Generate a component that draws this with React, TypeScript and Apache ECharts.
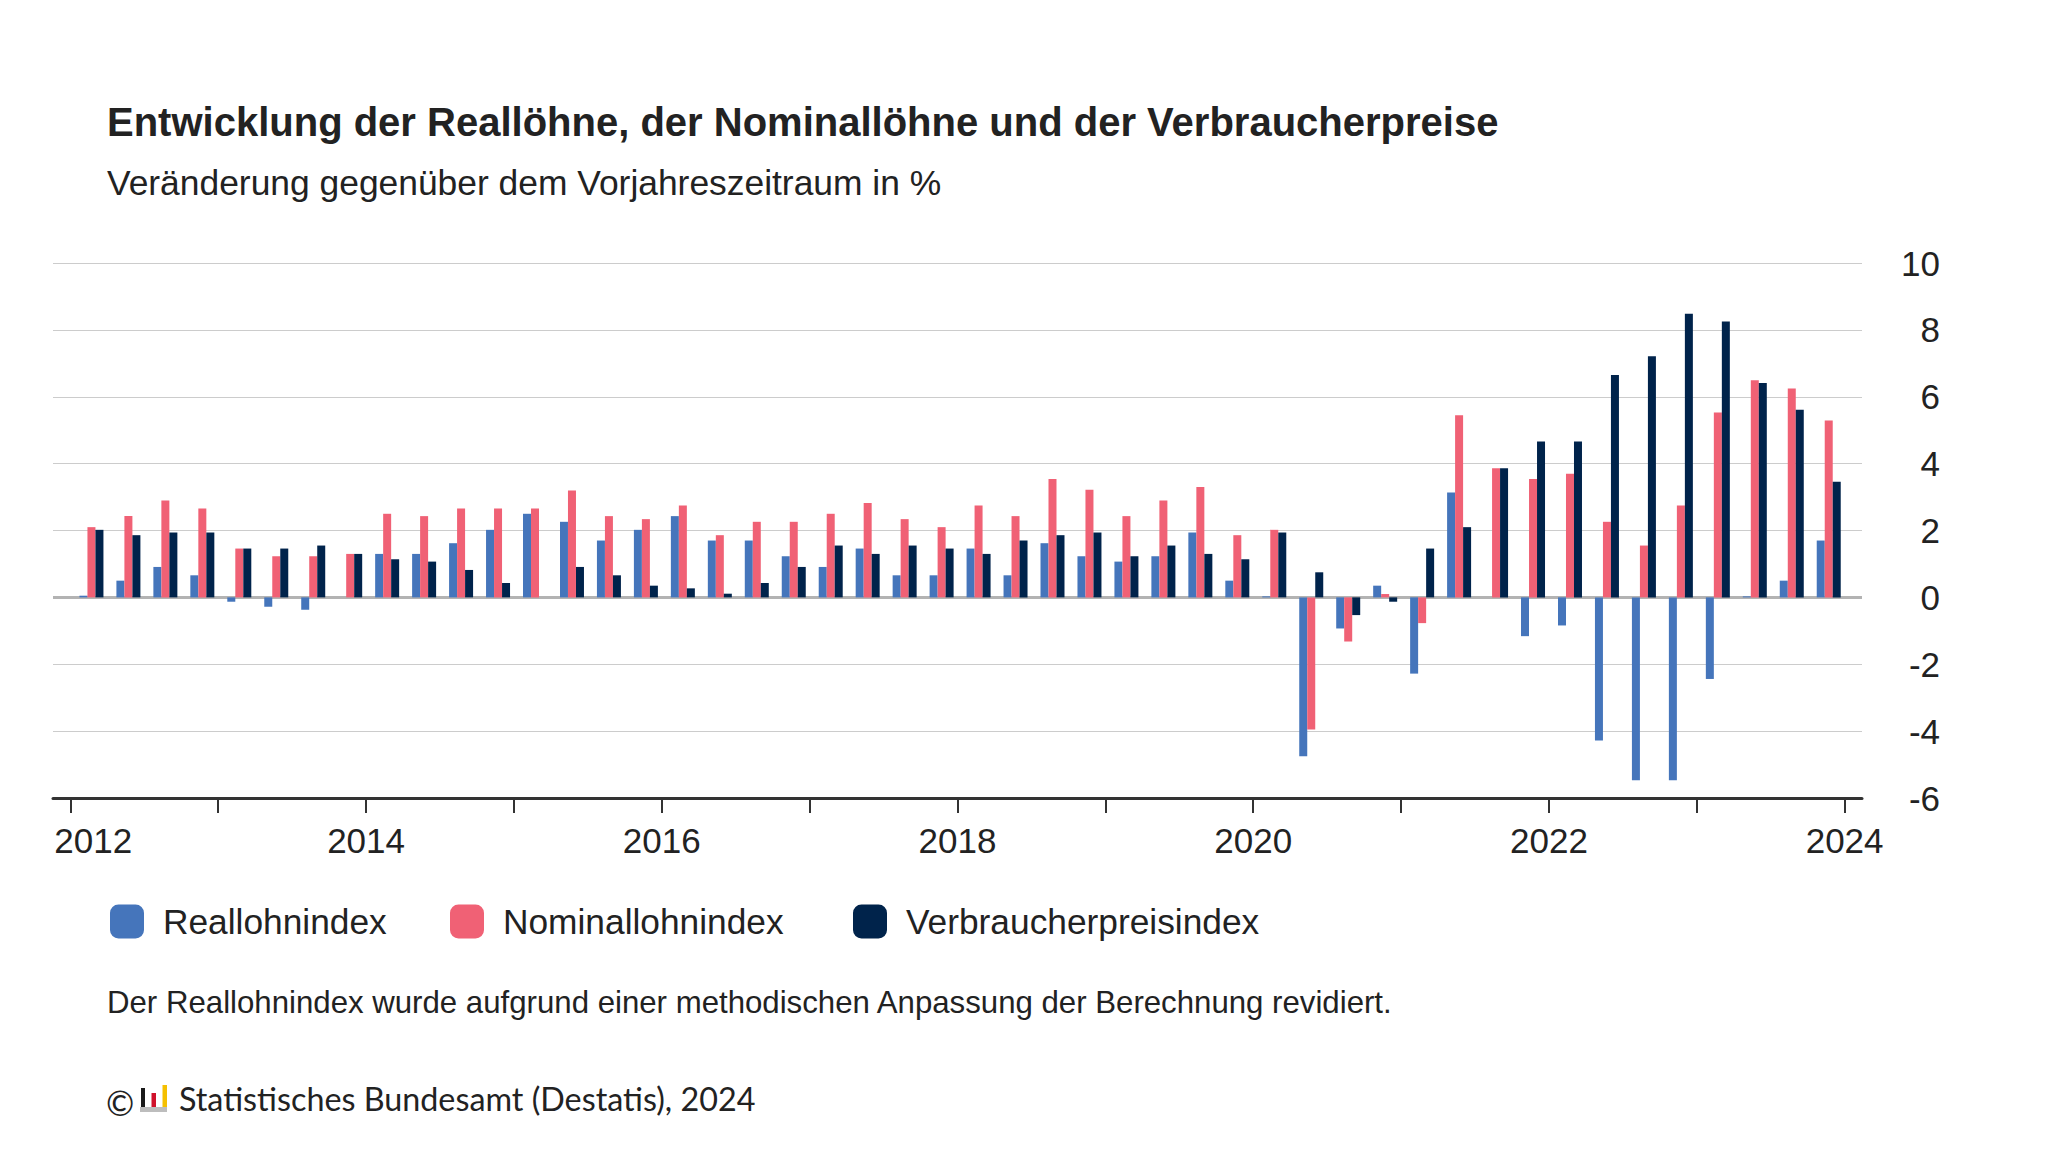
import React, { useEffect, useRef } from "react";
import * as echarts from "echarts";

// Quarters 2012 Q1 – 2023 Q4
const quarters: string[] = [];
for (let y = 2012; y <= 2023; y++) for (let q = 1; q <= 4; q++) quarters.push(`${y} Q${q}`);

const seriesNames = ["Reallohnindex", "Nominallohnindex", "Verbraucherpreisindex"];

const realwage = [
  0.05, 0.5, 0.91, 0.66, -0.13, -0.28, -0.37, 0.0,
  1.3, 1.3, 1.62, 2.02, 2.5, 2.26, 1.7, 2.02,
  2.43, 1.7, 1.7, 1.23, 0.91, 1.46, 0.66, 0.66,
  1.46, 0.66, 1.62, 1.23, 1.07, 1.23, 1.94, 0.5,
  0.03, -4.75, -0.93, 0.35, -2.28, 3.14, 0.0, -1.16,
  -0.84, -4.28, -5.47, -5.47, -2.44, 0.03, 0.5, 1.7,
];
const nominalwage = [
  2.1, 2.43, 2.9, 2.66, 1.46, 1.23, 1.23, 1.3,
  2.5, 2.43, 2.66, 2.66, 2.66, 3.2, 2.43, 2.34,
  2.75, 1.86, 2.26, 2.26, 2.5, 2.82, 2.34, 2.1,
  2.75, 2.43, 3.54, 3.22, 2.43, 2.9, 3.3, 1.86,
  2.02, -3.95, -1.32, 0.1, -0.77, 5.45, 3.86, 3.54,
  3.7, 2.26, 1.55, 2.75, 5.53, 6.49, 6.25, 5.29,
];
const consumerprices = [
  2.02, 1.86, 1.94, 1.94, 1.46, 1.46, 1.55, 1.3,
  1.14, 1.07, 0.82, 0.43, 0.0, 0.91, 0.66, 0.35,
  0.27, 0.11, 0.43, 0.91, 1.55, 1.3, 1.55, 1.46,
  1.3, 1.7, 1.86, 1.94, 1.23, 1.55, 1.3, 1.14,
  1.94, 0.75, -0.53, -0.13, 1.46, 2.1, 3.86, 4.66,
  4.66, 6.65, 7.21, 8.48, 8.25, 6.41, 5.61, 3.46,
];

const tickYears = [2012, 2013, 2014, 2015, 2016, 2017, 2018, 2019, 2020, 2021, 2022, 2023, 2024];
const labelYears = [2012, 2014, 2016, 2018, 2020, 2022, 2024];
const startYear = 2012;
// position of a quarter's bar group inside the quarter (fraction of a quarter)
const groupPos = 0.57;
// the first year label sits slightly right of its tick (kept inside the plot edge)
const firstLabelShift = 0.62;

const colors = ["#4575BB", "#F06175", "#00234B"];
const FONT = '"Liberation Sans", Arial, Helvetica, sans-serif';

export default function App() {
  const ref = useRef<HTMLDivElement>(null);
  useEffect(() => {
    document.body.style.margin = "0";
    if (!ref.current) return;
    const chart = echarts.init(ref.current, undefined, { renderer: "svg" });
    const toX = (i: number) => i + groupPos;
    const mkSeries = (name: string, values: number[], color: string, extra: any = {}) => ({
      type: "bar",
      name,
      data: values.map((v, i) => [toX(i), v]),
      barWidth: 8,
      barGap: "0%",
      itemStyle: { color },
      ...extra,
    });
    const labelValues = labelYears.map((y, i) => (y - startYear) * 4 + (i === 0 ? firstLabelShift : 0));
    const option: any = {
      animation: false,
      textStyle: { fontFamily: FONT },
      grid: { left: 53, right: 186, top: 263, bottom: 354, containLabel: false },
      xAxis: {
        type: "value",
        min: -0.47,
        max: 48.47,
        axisLine: { show: true, onZero: false, lineStyle: { color: "#333333", width: 3 } },
        axisTick: {
          show: true,
          customValues: tickYears.map((y) => (y - startYear) * 4),
          length: 15,
          lineStyle: { color: "#333333", width: 2 },
        },
        axisLabel: {
          customValues: labelValues,
          formatter: (v: number) => String(startYear + Math.floor(v / 4)),
          fontSize: 35,
          color: "#222222",
          margin: 25,
          fontFamily: FONT,
        },
        splitLine: { show: false },
      },
      yAxis: {
        type: "value",
        position: "right",
        min: -6,
        max: 10,
        interval: 2,
        axisLine: { show: false },
        axisTick: { show: false },
        axisLabel: { fontSize: 35, color: "#222222", align: "right", margin: 78, fontFamily: FONT },
        splitLine: { lineStyle: { color: "#cccccc", width: 1 } },
      },
      legend: seriesNames.map((n, i) => ({
        data: [n],
        left: [110, 450, 853][i],
        top: 904,
        padding: 0,
        itemWidth: 34,
        itemHeight: 34,
        icon: "roundRect",
        selectedMode: false,
        textStyle: { fontSize: 35.3, color: "#222222", fontFamily: FONT, padding: [0, 0, 0, 14] },
      })),
      series: [
        mkSeries(seriesNames[0], realwage, colors[0], {
          markLine: {
            silent: true,
            symbol: "none",
            label: { show: false },
            lineStyle: { color: "#b3b3b3", width: 3, type: "solid" },
            data: [{ yAxis: 0 }],
            z: 1,
          },
        }),
        mkSeries(seriesNames[1], nominalwage, colors[1]),
        mkSeries(seriesNames[2], consumerprices, colors[2]),
      ],
      graphic: [
        {
          type: "text",
          x: 107,
          y: 122,
          style: {
            text: "Entwicklung der Reallöhne, der Nominallöhne und der Verbraucherpreise",
            font: `bold 40px ${FONT}`,
            fill: "#222222",
            verticalAlign: "middle",
          },
        },
        {
          type: "text",
          x: 107,
          y: 183,
          style: {
            text: "Veränderung gegenüber dem Vorjahreszeitraum in %",
            font: `35.4px ${FONT}`,
            fill: "#222222",
            verticalAlign: "middle",
          },
        },
        {
          type: "text",
          x: 107,
          y: 1002,
          style: {
            text: "Der Reallohnindex wurde aufgrund einer methodischen Anpassung der Berechnung revidiert.",
            font: `31.2px ${FONT}`,
            fill: "#222222",
            verticalAlign: "middle",
          },
        },
        {
          type: "text",
          x: 106,
          y: 1102,
          style: { text: "©", font: `34px Lato, "Open Sans", sans-serif`, fill: "#222222", verticalAlign: "middle" },
        },
        { type: "rect", shape: { x: 141, y: 1088, width: 4, height: 19 }, style: { fill: "#1a1a1a" } },
        { type: "rect", shape: { x: 151.5, y: 1093, width: 4.5, height: 14 }, style: { fill: "#d0112b" } },
        { type: "rect", shape: { x: 162.5, y: 1085, width: 4.5, height: 22 }, style: { fill: "#f5c000" } },
        { type: "rect", shape: { x: 140, y: 1107, width: 27, height: 5 }, style: { fill: "#bdbdbd" } },
        {
          type: "text",
          x: 179,
          y: 1098,
          style: {
            text: "Statistisches Bundesamt (Destatis), 2024",
            font: `32.3px Lato, "Open Sans", sans-serif`,
            fill: "#222222",
            verticalAlign: "middle",
          },
        },
      ],
    };
    chart.setOption(option);
    return () => chart.dispose();
  }, []);
  return <div ref={ref} style={{ width: 2048, height: 1152, background: "#ffffff" }} />;
}
